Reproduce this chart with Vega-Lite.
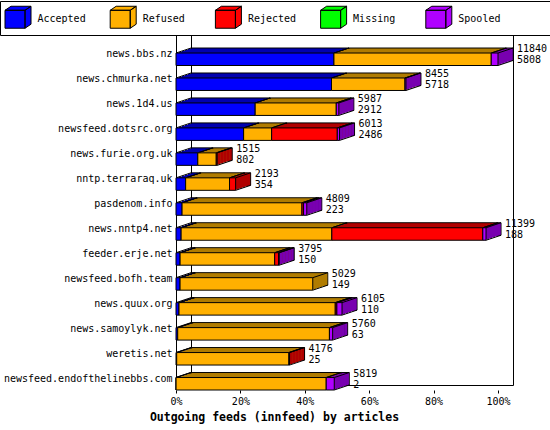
{
  "$schema": "https://vega.github.io/schema/vega-lite/v6.json",
  "autosize": {"type": "none"},
  "padding": {"left": 191, "top": 35, "right": 37, "bottom": 45},
  "width": 322,
  "height": 350,
  "background": "white",
  "datasets": {
    "feeds": [
      {"host": "news.bbs.nz", "n_offered": 11840, "n_accepted": 5808, "Accepted": 49.05, "Refused": 48.85, "Rejected": 0, "Missing": 0, "Spooled": 2.1},
      {"host": "news.chmurka.net", "n_offered": 8455, "n_accepted": 5718, "Accepted": 48.29, "Refused": 22.82, "Rejected": 0, "Missing": 0, "Spooled": 0.3},
      {"host": "news.1d4.us", "n_offered": 5987, "n_accepted": 2912, "Accepted": 24.59, "Refused": 25.18, "Rejected": 0, "Missing": 0, "Spooled": 0.8},
      {"host": "newsfeed.dotsrc.org", "n_offered": 6013, "n_accepted": 2486, "Accepted": 21.0, "Refused": 8.7, "Rejected": 20.39, "Missing": 0, "Spooled": 0.7},
      {"host": "news.furie.org.uk", "n_offered": 1515, "n_accepted": 802, "Accepted": 6.77, "Refused": 5.73, "Rejected": 0.3, "Missing": 0, "Spooled": 0},
      {"host": "nntp.terraraq.uk", "n_offered": 2193, "n_accepted": 354, "Accepted": 2.99, "Refused": 13.63, "Rejected": 1.9, "Missing": 0, "Spooled": 0},
      {"host": "pasdenom.info", "n_offered": 4809, "n_accepted": 223, "Accepted": 1.88, "Refused": 37.24, "Rejected": 0.5, "Missing": 0, "Spooled": 1.0},
      {"host": "news.nntp4.net", "n_offered": 11399, "n_accepted": 188, "Accepted": 1.59, "Refused": 46.8, "Rejected": 46.89, "Missing": 0, "Spooled": 1.0},
      {"host": "feeder.erje.net", "n_offered": 3795, "n_accepted": 150, "Accepted": 1.27, "Refused": 29.38, "Rejected": 1.2, "Missing": 0, "Spooled": 0.2},
      {"host": "newsfeed.bofh.team", "n_offered": 5029, "n_accepted": 149, "Accepted": 1.26, "Refused": 41.21, "Rejected": 0, "Missing": 0, "Spooled": 0},
      {"host": "news.quux.org", "n_offered": 6105, "n_accepted": 110, "Accepted": 0.93, "Refused": 48.53, "Rejected": 0.5, "Missing": 0, "Spooled": 1.6},
      {"host": "news.samoylyk.net", "n_offered": 5760, "n_accepted": 63, "Accepted": 0.53, "Refused": 47.12, "Rejected": 0, "Missing": 0, "Spooled": 1.0},
      {"host": "weretis.net", "n_offered": 4176, "n_accepted": 25, "Accepted": 0.21, "Refused": 34.86, "Rejected": 0.2, "Missing": 0, "Spooled": 0},
      {"host": "newsfeed.endofthelinebbs.com", "n_offered": 5819, "n_accepted": 2, "Accepted": 0.02, "Refused": 46.63, "Rejected": 0, "Missing": 0, "Spooled": 2.5}
    ]
  },
  "data": {"name": "feeds"},
  "transform": [
    {"fold": ["Accepted", "Refused", "Rejected", "Missing", "Spooled"], "as": ["status", "pct"]},
    {"filter": "datum.pct > 0"},
    {"stack": "pct", "groupby": ["host"], "sort": [{"field": "status", "order": "ascending"}], "as": ["s0", "s1"]}
  ],
  "encoding": {
    "y": {
      "field": "host", "type": "nominal", "title": null,
      "sort": ["news.bbs.nz", "news.chmurka.net", "news.1d4.us", "newsfeed.dotsrc.org", "news.furie.org.uk", "nntp.terraraq.uk", "pasdenom.info", "news.nntp4.net", "feeder.erje.net", "newsfeed.bofh.team", "news.quux.org", "news.samoylyk.net", "weretis.net", "newsfeed.endofthelinebbs.com"],
      "scale": {"type": "band", "paddingInner": 0.5, "paddingOuter": 0.261, "align": 1}
    }
  },
  "layer": [
    {
      "mark": {"type": "bar", "xOffset": 0, "x2Offset": 0, "yOffset": 0, "y2Offset": 0, "stroke": "black", "strokeWidth": 1},
      "encoding": {
        "x": {
          "field": "s0", "type": "quantitative",
          "scale": {"domain": [0, 100], "nice": false},
          "axis": {"values": [0, 10, 20, 30, 40, 50, 60, 70, 80, 90, 100], "tickCount": 10, "labelOverlap": false, "labelBound": false, "labelExpr": "datum.value + '%'", "title": "Outgoing feeds (innfeed) by articles"}
        },
        "x2": {"field": "s1"},
        "fill": {"field": "status", "type": "nominal", "scale": {"domain": ["Spooled", "Missing", "Rejected", "Refused", "Accepted"], "range": ["#7800b0", "#00b000", "#b00000", "#b07c00", "#0000b0"]}, "legend": null}
      }
    },
    {
      "mark": {"type": "bar", "xOffset": -3, "x2Offset": -3, "yOffset": 1, "y2Offset": 1},
      "encoding": {"x": {"field": "s0", "type": "quantitative"}, "x2": {"field": "s1"}, "fill": {"field": "status", "type": "nominal", "legend": null}}
    },
    {
      "mark": {"type": "bar", "xOffset": -6, "x2Offset": -6, "yOffset": 2, "y2Offset": 2},
      "encoding": {"x": {"field": "s0", "type": "quantitative"}, "x2": {"field": "s1"}, "fill": {"field": "status", "type": "nominal", "legend": null}}
    },
    {
      "mark": {"type": "bar", "xOffset": -9, "x2Offset": -9, "yOffset": 3, "y2Offset": 3},
      "encoding": {"x": {"field": "s0", "type": "quantitative"}, "x2": {"field": "s1"}, "fill": {"field": "status", "type": "nominal", "legend": null}}
    },
    {
      "mark": {"type": "bar", "xOffset": -12, "x2Offset": -12, "yOffset": 4, "y2Offset": 4},
      "encoding": {"x": {"field": "s0", "type": "quantitative"}, "x2": {"field": "s1"}, "fill": {"field": "status", "type": "nominal", "legend": null}}
    },
    {
      "transform": [
        {"joinaggregate": [{"op": "max", "field": "s1", "as": "end"}], "groupby": ["host"]},
        {"filter": "datum.s1 == datum.end"}
      ],
      "layer": [
        {
          "mark": {"type": "bar", "xOffset": -3, "x2Offset": -0.5, "yOffset": 0.5, "y2Offset": 0.5},
          "encoding": {"x": {"field": "s1", "type": "quantitative"}, "x2": {"field": "s1"}, "fill": {"field": "status", "type": "nominal", "legend": null}}
        },
        {
          "mark": {"type": "bar", "xOffset": -6, "x2Offset": -3, "yOffset": 1, "y2Offset": 1},
          "encoding": {"x": {"field": "s1", "type": "quantitative"}, "x2": {"field": "s1"}, "fill": {"field": "status", "type": "nominal", "legend": null}}
        },
        {
          "mark": {"type": "bar", "xOffset": -9, "x2Offset": -6, "yOffset": 2, "y2Offset": 2},
          "encoding": {"x": {"field": "s1", "type": "quantitative"}, "x2": {"field": "s1"}, "fill": {"field": "status", "type": "nominal", "legend": null}}
        },
        {
          "mark": {"type": "bar", "xOffset": -12, "x2Offset": -9, "yOffset": 3, "y2Offset": 3},
          "encoding": {"x": {"field": "s1", "type": "quantitative"}, "x2": {"field": "s1"}, "fill": {"field": "status", "type": "nominal", "legend": null}}
        },
        {
          "mark": {"type": "bar", "xOffset": -15, "x2Offset": -12, "yOffset": 4, "y2Offset": 4},
          "encoding": {"x": {"field": "s1", "type": "quantitative"}, "x2": {"field": "s1"}, "fill": {"field": "status", "type": "nominal", "legend": null}}
        },
        {
          "mark": {"type": "rule", "color": "black", "strokeWidth": 1, "xOffset": -15, "x2Offset": 0, "yOffset": 5, "y2Offset": 0},
          "encoding": {
            "x": {"field": "s1", "type": "quantitative"},
            "x2": {"field": "s1"},
            "y": {"field": "host", "type": "nominal", "bandPosition": 1, "sort": ["news.bbs.nz", "news.chmurka.net", "news.1d4.us", "newsfeed.dotsrc.org", "news.furie.org.uk", "nntp.terraraq.uk", "pasdenom.info", "news.nntp4.net", "feeder.erje.net", "newsfeed.bofh.team", "news.quux.org", "news.samoylyk.net", "weretis.net", "newsfeed.endofthelinebbs.com"]},
            "y2": {"field": "host", "bandPosition": 1}
          }
        },
        {
          "mark": {"type": "text", "align": "left", "baseline": "middle", "dx": 4, "dy": -5, "font": "DejaVu Sans Mono", "fontSize": 10, "color": "black"},
          "encoding": {"x": {"field": "s1", "type": "quantitative"}, "text": {"field": "n_offered", "type": "quantitative", "format": "d"}}
        },
        {
          "mark": {"type": "text", "align": "left", "baseline": "middle", "dx": 4, "dy": 6, "font": "DejaVu Sans Mono", "fontSize": 10, "color": "black"},
          "encoding": {"x": {"field": "s1", "type": "quantitative"}, "text": {"field": "n_accepted", "type": "quantitative", "format": "d"}}
        }
      ]
    },
    {
      "mark": {"type": "rule", "color": "black", "strokeWidth": 1, "xOffset": -15, "x2Offset": 0, "yOffset": 5, "y2Offset": 0},
      "encoding": {
        "x": {"field": "s0", "type": "quantitative"},
        "x2": {"field": "s0"},
        "y": {"field": "host", "type": "nominal", "bandPosition": 0, "sort": ["news.bbs.nz", "news.chmurka.net", "news.1d4.us", "newsfeed.dotsrc.org", "news.furie.org.uk", "nntp.terraraq.uk", "pasdenom.info", "news.nntp4.net", "feeder.erje.net", "newsfeed.bofh.team", "news.quux.org", "news.samoylyk.net", "weretis.net", "newsfeed.endofthelinebbs.com"]},
        "y2": {"field": "host", "bandPosition": 0}
      }
    },
    {
      "mark": {"type": "rule", "color": "black", "strokeWidth": 1, "xOffset": -15, "x2Offset": 0, "yOffset": 5, "y2Offset": 0},
      "encoding": {
        "x": {"field": "s1", "type": "quantitative"},
        "x2": {"field": "s1"},
        "y": {"field": "host", "type": "nominal", "bandPosition": 0, "sort": ["news.bbs.nz", "news.chmurka.net", "news.1d4.us", "newsfeed.dotsrc.org", "news.furie.org.uk", "nntp.terraraq.uk", "pasdenom.info", "news.nntp4.net", "feeder.erje.net", "newsfeed.bofh.team", "news.quux.org", "news.samoylyk.net", "weretis.net", "newsfeed.endofthelinebbs.com"]},
        "y2": {"field": "host", "bandPosition": 0}
      }
    },
    {
      "mark": {"type": "bar", "xOffset": -15, "x2Offset": -15, "yOffset": 5, "y2Offset": 5, "stroke": "black", "strokeWidth": 1},
      "encoding": {
        "x": {"field": "s0", "type": "quantitative"},
        "x2": {"field": "s1"},
        "color": {
          "field": "status", "type": "nominal",
          "scale": {"domain": ["Accepted", "Refused", "Rejected", "Missing", "Spooled"], "range": ["#0000ff", "#ffb000", "#ff0000", "#00ff00", "#b000ff"]},
          "legend": {
            "orient": "none", "legendX": -191, "legendY": -34,
            "direction": "horizontal", "columns": 5, "gridAlign": "all", "columnPadding": 21.2,
            "padding": 4.5, "strokeColor": "black", "fillColor": "white",
            "title": "\u00a0", "titleOrient": "right", "titlePadding": 49, "titleFont": "DejaVu Sans Mono", "titleFontSize": 10,
            "symbolType": "M-1,-0.69H0.54V0.69H-1Z M-1,-0.69L-0.54,-1H1L0.54,-0.69Z M0.54,-0.69L1,-1V0.38L0.54,0.69Z",
            "symbolSize": 676, "symbolStrokeColor": "black", "symbolStrokeWidth": 1, "symbolOpacity": 1,
            "labelFont": "DejaVu Sans Mono", "labelFontSize": 10, "labelColor": "black", "labelOffset": 6,
            "encode": {"symbols": {"update": {"stroke": {"value": "black"}, "strokeWidth": {"value": 1}}}}
          }
        }
      }
    }
  ],
  "config": {
    "view": {"stroke": "black", "strokeWidth": 1},
    "axisX": {
      "offset": 5, "tickOffset": -15, "domain": false, "ticks": true, "tickSize": 3, "tickColor": "black", "tickWidth": 1, "grid": false,
      "labelFont": "DejaVu Sans Mono", "labelFontSize": 10, "labelColor": "black", "labelPadding": 3, "labelFlush": false, "labelOverlap": false,
      "titleFont": "DejaVu Sans Mono", "titleFontSize": 11.5, "titleFontWeight": "bold", "titleColor": "black",
      "titleX": 83, "titleY": 27, "titleAlign": "center", "titleBaseline": "middle"
    },
    "axisY": {
      "offset": 15, "domainColor": "black", "ticks": false, "tickSize": 0, "labelPadding": 4, "tickOffset": 5, "grid": false,
      "labelFont": "DejaVu Sans Mono", "labelFontSize": 10, "labelColor": "black"
    }
  }
}
